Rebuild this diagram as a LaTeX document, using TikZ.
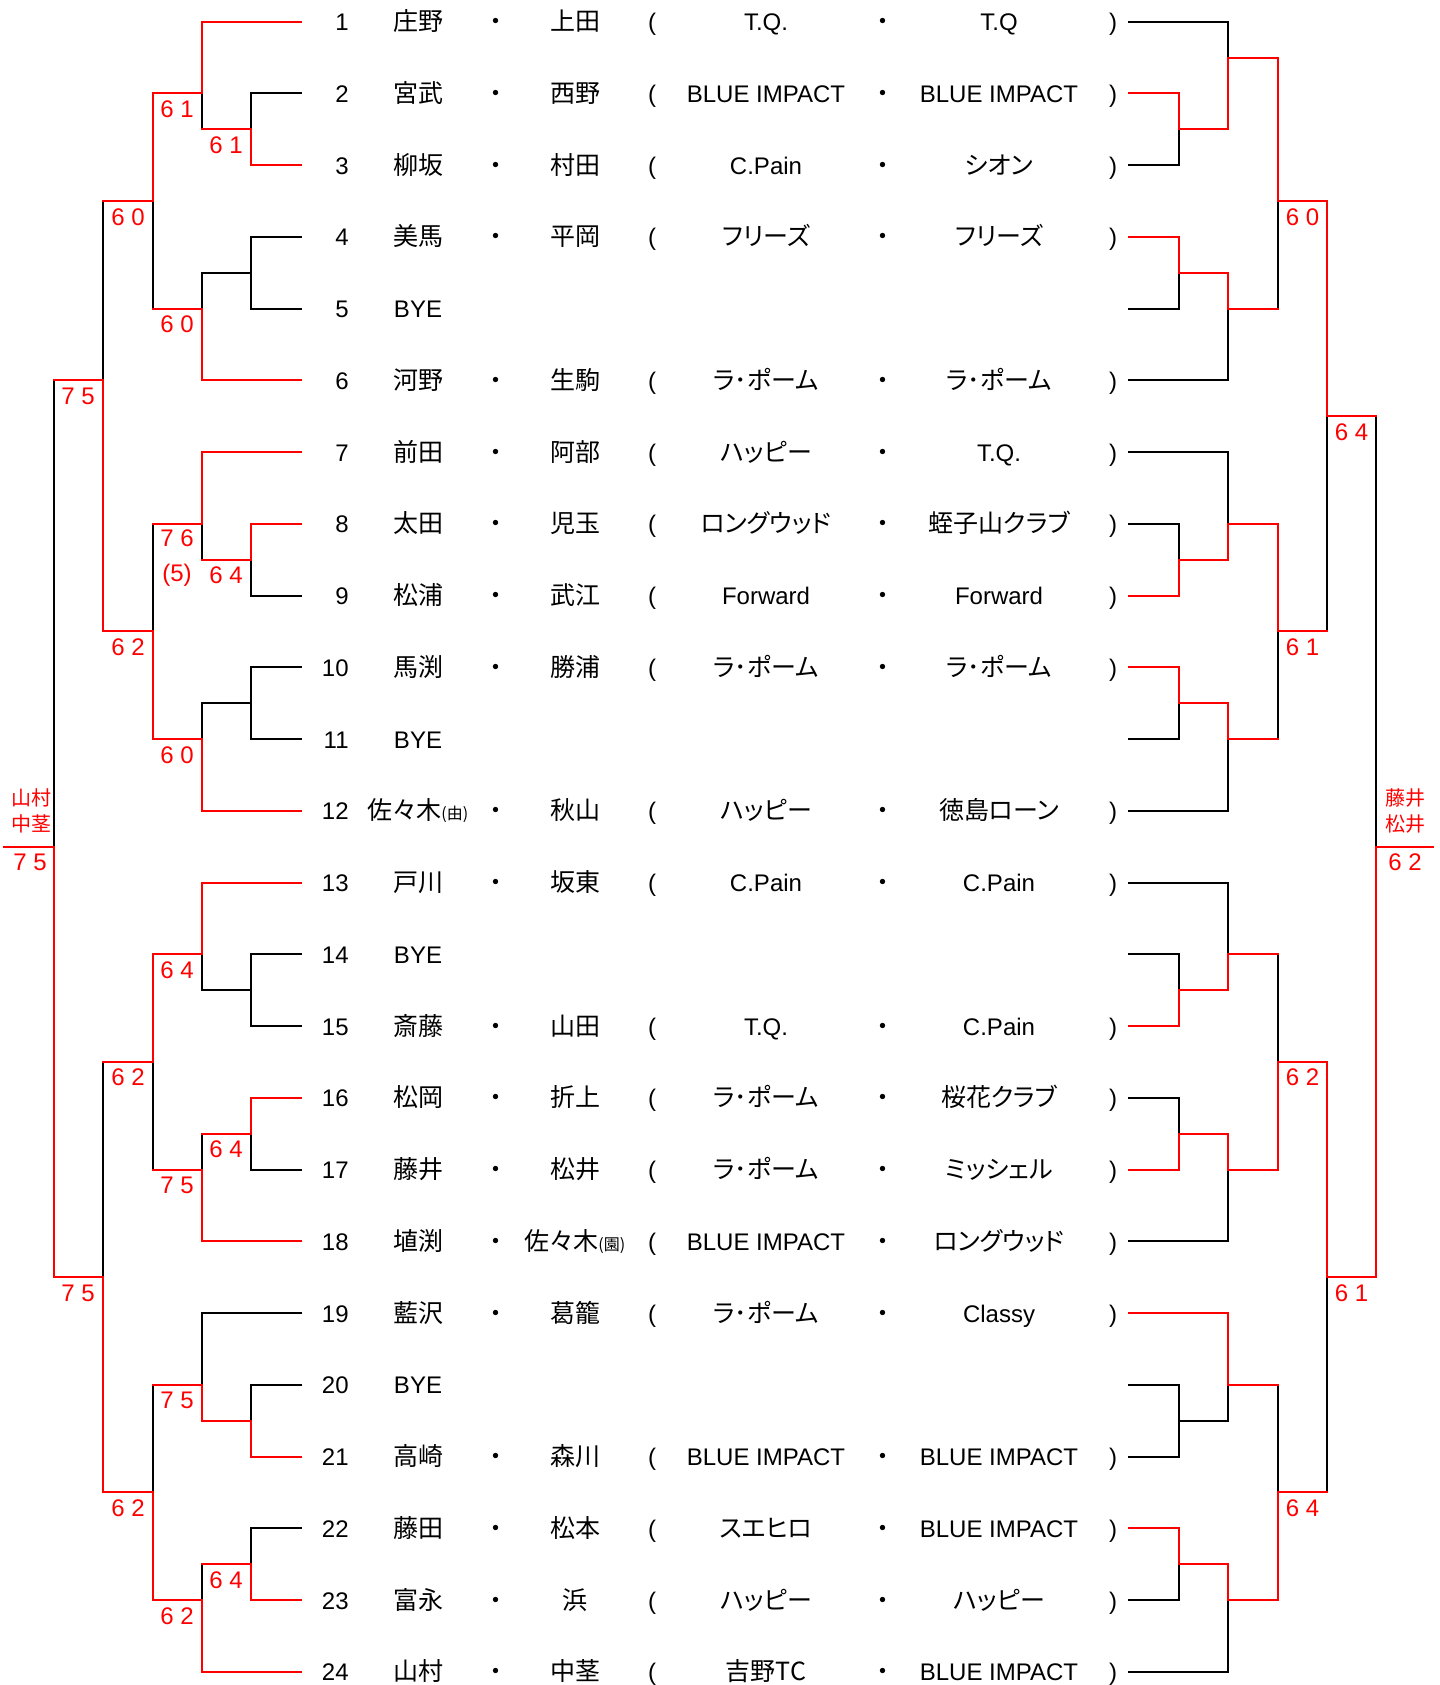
\documentclass[tikz,border=0pt]{standalone}
\usepackage{fontspec}
\setmainfont{Liberation Sans}
\newfontfamily\jpfamily[RawFeature=+palt]{Noto Sans CJK JP}
\usetikzlibrary{calc}
\newcommand\jp{\jpfamily\fontsize{12.5}{15}\selectfont}
\newcommand\jps{\jpfamily\fontsize{8}{10}\selectfont}
\newcommand\entry[5]{%
  \node[txt,anchor=base east] (num#1) at ($(r#1)+(349,9)$) {#1};
  \node[txt] (pa#1) at ($(r#1)+(418,9)$) {#2};
  \node[txt] (dA#1) at ($(r#1)+(496,9)$) {\jp ・};
  \node[txt] (pb#1) at ($(r#1)+(575,9)$) {#3};
  \node[txt] (op#1) at ($(r#1)+(652,9)$) {(};
  \node[txt] (ta#1) at ($(r#1)+(766,9)$) {#4};
  \node[txt] (dB#1) at ($(r#1)+(883,9)$) {\jp ・};
  \node[txt] (tb#1) at ($(r#1)+(999,9)$) {#5};
  \node[txt] (cp#1) at ($(r#1)+(1113,9)$) {)};
}
\newcommand\byeentry[1]{%
  \node[txt,anchor=base east] (num#1) at ($(r#1)+(349,9)$) {#1};
  \node[txt] (pa#1) at ($(r#1)+(418,9)$) {BYE};
}
\begin{document}
\begin{tikzpicture}[x=0.5pt,y=-0.5pt,
  blackline/.style={draw=black,line width=1pt,line cap=rect},
  redline/.style={draw=red,line width=1pt,line cap=rect},
  txt/.style={inner sep=0pt,anchor=base,font=\fontsize{12}{14}\selectfont},
  score/.style={inner sep=0pt,anchor=base,text=red,font=\fontsize{12}{14}\selectfont},
  lbl/.style={inner sep=0pt,anchor=base,text=red,font=\jpfamily\fontsize{10}{12}\selectfont}]
\useasboundingbox (0,0) rectangle (1439,1685);
% row coordinates
\foreach \i in {1,...,24} { \coordinate (r\i) at (0,{21.7+(\i-1)*71.74}); }
\coordinate (m23) at ($(r2)!0.5!(r3)$);
\coordinate (m45) at ($(r4)!0.5!(r5)$);
\coordinate (m89) at ($(r8)!0.5!(r9)$);
\coordinate (m1011) at ($(r10)!0.5!(r11)$);
\coordinate (m1415) at ($(r14)!0.5!(r15)$);
\coordinate (m1617) at ($(r16)!0.5!(r17)$);
\coordinate (m2021) at ($(r20)!0.5!(r21)$);
\coordinate (m2223) at ($(r22)!0.5!(r23)$);
\coordinate (Q1) at (0,58);
\coordinate (J1) at ($(r2)!0.5!(r5)$);
\coordinate (J2) at ($(r8)!0.5!(r11)$);
\coordinate (J3) at ($(r14)!0.5!(r17)$);
\coordinate (J4) at ($(r20)!0.5!(r23)$);
\coordinate (P1) at ($(J1)!0.5!(J2)$);
\coordinate (K) at ($(J3)!0.5!(J4)$);
\coordinate (F) at ($(r12)!0.5!(r13)$);
% column coordinates
\coordinate (L0) at (301,0);   \coordinate (L1) at (250.7,0);
\coordinate (L2) at (201.7,0); \coordinate (L3) at (152.7,0);
\coordinate (L4) at (102.7,0); \coordinate (L5) at (53.7,0);
\coordinate (L6) at (4,0);
\coordinate (R0) at (1129,0);  \coordinate (R1) at (1179,0);
\coordinate (R2) at (1228,0);  \coordinate (R3) at (1278,0);
\coordinate (R4) at (1327,0);  \coordinate (R5) at (1376,0);
\coordinate (R6) at (1433,0);

% ---------- left, black ----------
\draw[blackline]
 (L1|-r2)--(L0|-r2) (L1|-r2)--(L1|-m23) (L2|-r2)--(L2|-m23)
 (L1|-r4)--(L0|-r4) (L1|-r5)--(L0|-r5) (L1|-r4)--(L1|-r5) (L2|-m45)--(L1|-m45) (L2|-m45)--(L2|-r5)
 (L3|-J1)--(L3|-r5)
 (L1|-r9)--(L0|-r9) (L1|-m89)--(L1|-r9) (L2|-r8)--(L2|-m89)
 (L1|-r10)--(L0|-r10) (L1|-r11)--(L0|-r11) (L1|-r10)--(L1|-r11) (L2|-m1011)--(L1|-m1011) (L2|-m1011)--(L2|-r11)
 (L3|-r8)--(L3|-J2)
 (L4|-J1)--(L4|-r6)
 (L1|-r14)--(L0|-r14) (L1|-r15)--(L0|-r15) (L1|-r14)--(L1|-r15) (L2|-m1415)--(L1|-m1415) (L2|-r14)--(L2|-m1415)
 (L1|-r17)--(L0|-r17) (L1|-m1617)--(L1|-r17) (L2|-m1617)--(L2|-r17)
 (L3|-J3)--(L3|-r17)
 (L2|-r19)--(L0|-r19) (L1|-r20)--(L0|-r20) (L1|-r20)--(L1|-m2021) (L2|-r19)--(L2|-r20)
 (L1|-r22)--(L0|-r22) (L1|-r22)--(L1|-m2223) (L2|-m2223)--(L2|-r23)
 (L3|-r20)--(L3|-J4)
 (L4|-J3)--(L4|-K)
 (L5|-r6)--(L5|-F);
% ---------- right, black ----------
\draw[blackline]
 (R0|-r1)--(R2|-r1) (R0|-r3)--(R1|-r3) (R1|-m23)--(R1|-r3) (R2|-r1)--(R2|-Q1)
 (R0|-r5)--(R1|-r5) (R1|-m45)--(R1|-r5) (R0|-r6)--(R2|-r6) (R2|-r5)--(R2|-r6)
 (R3|-J1)--(R3|-r5)
 (R0|-r7)--(R2|-r7) (R0|-r8)--(R1|-r8) (R1|-r8)--(R1|-m89) (R2|-r7)--(R2|-r8)
 (R0|-r11)--(R1|-r11) (R1|-m1011)--(R1|-r11) (R0|-r12)--(R2|-r12) (R2|-r11)--(R2|-r12)
 (R3|-J2)--(R3|-r11)
 (R4|-P1)--(R4|-J2)
 (R0|-r13)--(R2|-r13) (R0|-r14)--(R1|-r14) (R1|-r14)--(R1|-m1415) (R2|-r13)--(R2|-r14)
 (R0|-r16)--(R1|-r16) (R1|-r16)--(R1|-m1617) (R0|-r18)--(R2|-r18) (R2|-r17)--(R2|-r18)
 (R3|-r14)--(R3|-J3)
 (R0|-r20)--(R1|-r20) (R0|-r21)--(R1|-r21) (R1|-r20)--(R1|-r21) (R1|-m2021)--(R2|-m2021) (R2|-r20)--(R2|-m2021)
 (R0|-r23)--(R1|-r23) (R1|-m2223)--(R1|-r23) (R0|-r24)--(R2|-r24) (R2|-r23)--(R2|-r24)
 (R3|-r20)--(R3|-J4)
 (R4|-K)--(R4|-J4)
 (R5|-P1)--(R5|-F);
% ---------- left, red ----------
\draw[redline]
 (L2|-r1)--(L0|-r1) (L1|-r3)--(L0|-r3) (L1|-m23)--(L1|-r3) (L2|-m23)--(L1|-m23) (L2|-r1)--(L2|-r2) (L3|-r2)--(L2|-r2)
 (L2|-r6)--(L0|-r6) (L2|-r5)--(L2|-r6) (L3|-r5)--(L2|-r5)
 (L3|-r2)--(L3|-J1) (L4|-J1)--(L3|-J1)
 (L2|-r7)--(L0|-r7) (L1|-r8)--(L0|-r8) (L1|-r8)--(L1|-m89) (L2|-m89)--(L1|-m89) (L2|-r7)--(L2|-r8) (L3|-r8)--(L2|-r8)
 (L2|-r12)--(L0|-r12) (L2|-r11)--(L2|-r12) (L3|-r11)--(L2|-r11)
 (L3|-J2)--(L3|-r11) (L4|-J2)--(L3|-J2)
 (L4|-r6)--(L4|-J2) (L5|-r6)--(L4|-r6)
 (L2|-r13)--(L0|-r13) (L2|-r13)--(L2|-r14) (L3|-r14)--(L2|-r14)
 (L1|-r16)--(L0|-r16) (L1|-r16)--(L1|-m1617) (L2|-m1617)--(L1|-m1617) (L2|-r18)--(L0|-r18) (L2|-r17)--(L2|-r18) (L3|-r17)--(L2|-r17)
 (L3|-r14)--(L3|-J3) (L4|-J3)--(L3|-J3)
 (L1|-r21)--(L0|-r21) (L1|-m2021)--(L1|-r21) (L2|-m2021)--(L1|-m2021) (L2|-r20)--(L2|-m2021) (L3|-r20)--(L2|-r20)
 (L1|-r23)--(L0|-r23) (L1|-m2223)--(L1|-r23) (L2|-m2223)--(L1|-m2223) (L2|-r24)--(L0|-r24) (L2|-r23)--(L2|-r24) (L3|-r23)--(L2|-r23)
 (L3|-J4)--(L3|-r23) (L4|-J4)--(L3|-J4)
 (L4|-K)--(L4|-J4) (L5|-K)--(L4|-K)
 (L5|-F)--(L5|-K) (L6|-F)--(L5|-F);
% ---------- right, red ----------
\draw[redline]
 (R0|-r2)--(R1|-r2) (R1|-r2)--(R1|-m23) (R1|-m23)--(R2|-m23) (R2|-Q1)--(R2|-m23) (R2|-Q1)--(R3|-Q1)
 (R0|-r4)--(R1|-r4) (R1|-r4)--(R1|-m45) (R1|-m45)--(R2|-m45) (R2|-m45)--(R2|-r5) (R2|-r5)--(R3|-r5)
 (R3|-Q1)--(R3|-J1) (R3|-J1)--(R4|-J1)
 (R0|-r9)--(R1|-r9) (R1|-m89)--(R1|-r9) (R1|-m89)--(R2|-m89) (R2|-r8)--(R2|-m89) (R2|-r8)--(R3|-r8)
 (R0|-r10)--(R1|-r10) (R1|-r10)--(R1|-m1011) (R1|-m1011)--(R2|-m1011) (R2|-m1011)--(R2|-r11) (R2|-r11)--(R3|-r11)
 (R3|-r8)--(R3|-J2) (R3|-J2)--(R4|-J2)
 (R4|-J1)--(R4|-P1) (R4|-P1)--(R5|-P1)
 (R0|-r15)--(R1|-r15) (R1|-m1415)--(R1|-r15) (R1|-m1415)--(R2|-m1415) (R2|-r14)--(R2|-m1415) (R2|-r14)--(R3|-r14)
 (R0|-r17)--(R1|-r17) (R1|-m1617)--(R1|-r17) (R1|-m1617)--(R2|-m1617) (R2|-m1617)--(R2|-r17) (R2|-r17)--(R3|-r17)
 (R3|-J3)--(R3|-r17) (R3|-J3)--(R4|-J3)
 (R4|-J3)--(R4|-K) (R4|-K)--(R5|-K)
 (R0|-r19)--(R2|-r19) (R2|-r19)--(R2|-r20) (R2|-r20)--(R3|-r20)
 (R0|-r22)--(R1|-r22) (R1|-r22)--(R1|-m2223) (R1|-m2223)--(R2|-m2223) (R2|-m2223)--(R2|-r23) (R2|-r23)--(R3|-r23)
 (R3|-J4)--(R3|-r23) (R3|-J4)--(R4|-J4)
 (R5|-F)--(R5|-K) (R5|-F)--(R6|-F);

% ---------- entries ----------
\entry{1}{\jp 庄野}{\jp 上田}{T.Q.}{T.Q}
\entry{2}{\jp 宮武}{\jp 西野}{BLUE IMPACT}{BLUE IMPACT}
\entry{3}{\jp 柳坂}{\jp 村田}{C.Pain}{\jp シオン}
\entry{4}{\jp 美馬}{\jp 平岡}{\jp フリーズ}{\jp フリーズ}
\byeentry{5}
\entry{6}{\jp 河野}{\jp 生駒}{\jp ラ･ポーム}{\jp ラ･ポーム}
\entry{7}{\jp 前田}{\jp 阿部}{\jp ハッピー}{T.Q.}
\entry{8}{\jp 太田}{\jp 児玉}{\jp ロングウッド}{\jp 蛭子山クラブ}
\entry{9}{\jp 松浦}{\jp 武江}{Forward}{Forward}
\entry{10}{\jp 馬渕}{\jp 勝浦}{\jp ラ･ポーム}{\jp ラ･ポーム}
\byeentry{11}
\entry{12}{\jp 佐々木{\jps (由)}}{\jp 秋山}{\jp ハッピー}{\jp 徳島ローン}
\entry{13}{\jp 戸川}{\jp 坂東}{C.Pain}{C.Pain}
\byeentry{14}
\entry{15}{\jp 斎藤}{\jp 山田}{T.Q.}{C.Pain}
\entry{16}{\jp 松岡}{\jp 折上}{\jp ラ･ポーム}{\jp 桜花クラブ}
\entry{17}{\jp 藤井}{\jp 松井}{\jp ラ･ポーム}{\jp ミッシェル}
\entry{18}{\jp 埴渕}{\jp 佐々木{\jps (園)}}{BLUE IMPACT}{\jp ロングウッド}
\entry{19}{\jp 藍沢}{\jp 葛籠}{\jp ラ･ポーム}{Classy}
\byeentry{20}
\entry{21}{\jp 高崎}{\jp 森川}{BLUE IMPACT}{BLUE IMPACT}
\entry{22}{\jp 藤田}{\jp 松本}{\jp スエヒロ}{BLUE IMPACT}
\entry{23}{\jp 富永}{\jp 浜}{\jp ハッピー}{\jp ハッピー}
\entry{24}{\jp 山村}{\jp 中茎}{\jp 吉野TC}{BLUE IMPACT}

% ---------- scores, left ----------
\node[score] (sL1) at ($(r2)+(177,24)$) {6 1};
\node[score] (sL2) at ($(m23)+(226,24)$) {6 1};
\node[score] (sL3) at ($(r5)+(177,24)$) {6 0};
\node[score] (sL4) at ($(J1)+(128,24)$) {6 0};
\node[score] (sL5) at ($(r6)+(78,24)$) {7 5};
\node[score] (sL6) at ($(m89)+(226,24)$) {6 4};
\node[score] (sL7) at ($(r8)+(177,23)$) {7 6};
\node[score] (sL7b) at ($(r8)+(177,58)$) {(5)};
\node[score] (sL8) at ($(r11)+(177,24)$) {6 0};
\node[score] (sL9) at ($(J2)+(128,24)$) {6 2};
\node[score] (sL10) at ($(F)+(30,24)$) {7 5};
\node[score] (sL11) at ($(r14)+(177,24)$) {6 4};
\node[score] (sL12) at ($(m1617)+(226,24)$) {6 4};
\node[score] (sL13) at ($(r17)+(177,24)$) {7 5};
\node[score] (sL14) at ($(J3)+(128,24)$) {6 2};
\node[score] (sL15) at ($(K)+(78,24)$) {7 5};
\node[score] (sL16) at ($(r20)+(177,24)$) {7 5};
\node[score] (sL17) at ($(m2223)+(226,24)$) {6 4};
\node[score] (sL18) at ($(r23)+(177,24)$) {6 2};
\node[score] (sL19) at ($(J4)+(128,24)$) {6 2};
% ---------- scores, right ----------
\node[score] (sR1) at ($(J1)+(1302.5,24)$) {6 0};
\node[score] (sR2) at ($(J2)+(1302.5,24)$) {6 1};
\node[score] (sR3) at ($(P1)+(1351.5,24)$) {6 4};
\node[score] (sR4) at ($(F)+(1405,24)$) {6 2};
\node[score] (sR5) at ($(J3)+(1302.5,24)$) {6 2};
\node[score] (sR6) at ($(K)+(1351.5,24)$) {6 1};
\node[score] (sR7) at ($(J4)+(1302.5,24)$) {6 4};
% ---------- winners ----------
\node[lbl] (wL1) at ($(F)+(31,-41)$) {山村};
\node[lbl] (wL2) at ($(F)+(31,-15)$) {中茎};
\node[lbl] (wR1) at ($(F)+(1405,-41)$) {藤井};
\node[lbl] (wR2) at ($(F)+(1405,-15)$) {松井};
\end{tikzpicture}
\end{document}
